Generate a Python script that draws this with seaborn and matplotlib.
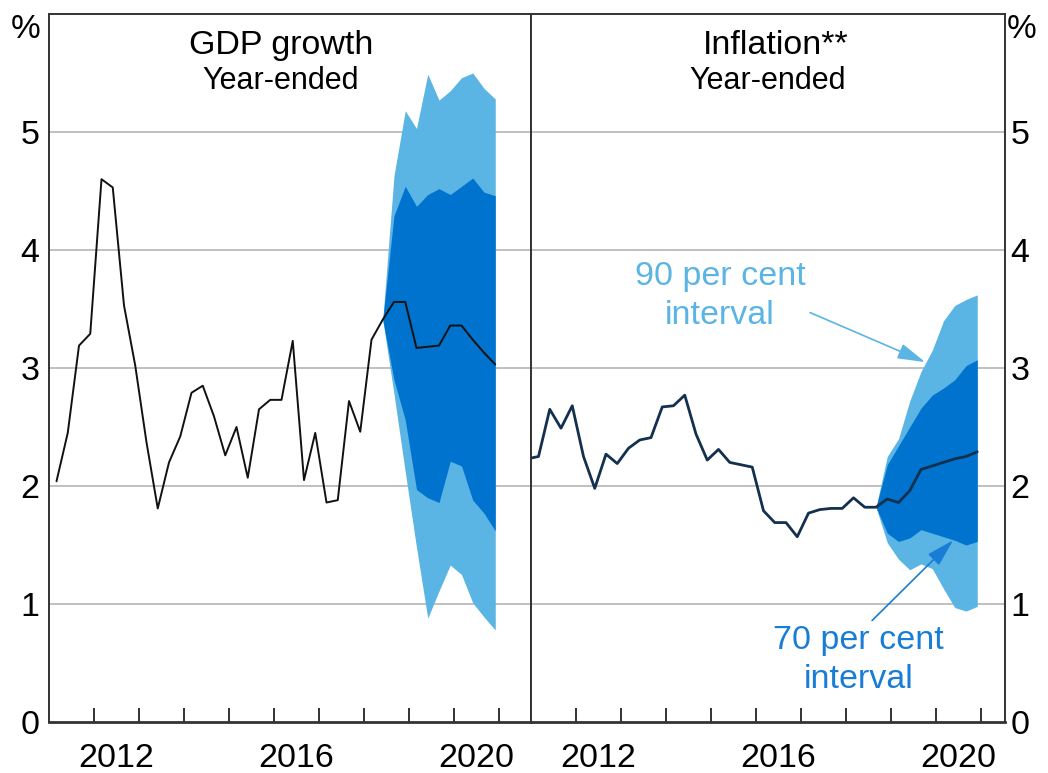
import numpy as np
import pandas as pd
import matplotlib
matplotlib.use("Agg")
import matplotlib.pyplot as plt
import seaborn as sns

# ---------------- data ----------------
gdp_quarters = pd.period_range("2011Q1", "2020Q4", freq="Q")
gdp_growth = [2.04, 2.45, 3.19, 3.29, 4.60, 4.53, 3.53, 3.02, 2.37, 1.81,
              2.20, 2.42, 2.79, 2.85, 2.59, 2.26, 2.50, 2.07, 2.65, 2.73,
              2.73, 3.23, 2.05, 2.45, 1.86, 1.88, 2.72, 2.46, 3.24, 3.41,
              3.56, 3.56, 3.17, 3.18, 3.19, 3.36, 3.36, 3.24, 3.13, 3.03]

gdp_fan_quarters = pd.period_range("2018Q2", "2020Q4", freq="Q")
gdp_90_high = [3.41, 4.63, 5.18, 5.03, 5.49, 5.27, 5.35, 5.46, 5.50, 5.37, 5.28]
gdp_70_high = [3.41, 4.29, 4.54, 4.37, 4.47, 4.52, 4.47, 4.54, 4.61, 4.49, 4.46]
gdp_70_low = [3.41, 2.90, 2.56, 1.97, 1.90, 1.86, 2.21, 2.17, 1.88, 1.77, 1.62]
gdp_90_low = [3.41, 2.78, 2.12, 1.48, 0.88, 1.11, 1.33, 1.25, 1.01, 0.89, 0.78]

cpi_quarters = pd.period_range("2010Q4", "2020Q4", freq="Q")
inflation = [2.23, 2.25, 2.65, 2.49, 2.68, 2.25, 1.98, 2.27, 2.19, 2.32,
             2.39, 2.41, 2.67, 2.68, 2.77, 2.44, 2.22, 2.31, 2.20, 2.18,
             2.16, 1.79, 1.69, 1.69, 1.57, 1.77, 1.80, 1.81, 1.81, 1.90,
             1.82, 1.82, 1.89, 1.86, 1.96, 2.14, 2.17, 2.20, 2.23, 2.25,
             2.29]

cpi_fan_quarters = pd.period_range("2018Q3", "2020Q4", freq="Q")
cpi_90_high = [1.82, 2.25, 2.40, 2.72, 2.97, 3.15, 3.40, 3.53, 3.58, 3.62]
cpi_70_high = [1.82, 2.18, 2.34, 2.50, 2.66, 2.77, 2.83, 2.90, 3.02, 3.07]
cpi_70_low = [1.82, 1.60, 1.53, 1.56, 1.63, 1.60, 1.57, 1.54, 1.50, 1.53]
cpi_90_low = [1.82, 1.52, 1.38, 1.29, 1.34, 1.30, 1.13, 0.97, 0.94, 0.98]

year_ticks = list(range(2012, 2022))
year_labels = ["2012", "2016", "2020"]
y_ticks = [0, 1, 2, 3, 4, 5]

# ---------------- style ----------------
sns.set_theme(style="white")
plt.rcParams["font.family"] = ["Liberation Sans", "DejaVu Sans"]
plt.rcParams["text.color"] = "black"
plt.rcParams["xtick.color"] = "black"
plt.rcParams["ytick.color"] = "black"

LIGHT = "#5AB4E4"
DARK = "#0073CF"
TXT70 = "#1A7DD5"
GRID = "#BBBBBB"
SPINE = "#333333"


def to_x(periods):
    return np.array([p.year + (3 * p.quarter - 1) / 12 for p in periods])


W, H = 1048, 773
fig = plt.figure(figsize=(W / 100, H / 100), dpi=100)


def px_axes(x0, x1, ytop, ybot):
    return fig.add_axes([x0 / W, 1 - ybot / H, (x1 - x0) / W, (ybot - ytop) / H])


PX_PER_YEAR = 45.0
X0 = 2011.0
ax1 = px_axes(49, 531, 14, 722)
ax2 = px_axes(531, 1005, 14, 722)
ax1.set_xlim(X0, X0 + 482 / PX_PER_YEAR)
ax2.set_xlim(X0, X0 + 474 / PX_PER_YEAR)

gdp_df = pd.DataFrame({"x": to_x(gdp_quarters), "value": gdp_growth})
cpi_df = pd.DataFrame({"x": to_x(cpi_quarters), "value": inflation})

# fans
gx = to_x(gdp_fan_quarters)
ax1.fill_between(gx, gdp_90_low, gdp_90_high, color=LIGHT, lw=0, zorder=2)
ax1.fill_between(gx, gdp_70_low, gdp_70_high, color=DARK, lw=0, zorder=3)
cx = to_x(cpi_fan_quarters)
ax2.fill_between(cx, cpi_90_low, cpi_90_high, color=LIGHT, lw=0, zorder=2)
ax2.fill_between(cx, cpi_70_low, cpi_70_high, color=DARK, lw=0, zorder=3)

sns.lineplot(data=gdp_df, x="x", y="value", ax=ax1, color="#111111", lw=1.4,
             zorder=5, legend=False)
sns.lineplot(data=cpi_df, x="x", y="value", ax=ax2, color="#14304F", lw=2.0,
             zorder=5, legend=False)

for ax in (ax1, ax2):
    ax.set_ylim(0, 6)
    ax.set_xlabel("")
    ax.set_ylabel("")
    for y in y_ticks[1:]:
        ax.axhline(y, color=GRID, lw=1.3, zorder=1)
    ax.set_yticks(y_ticks)
    ax.set_yticklabels([str(v) for v in y_ticks])
    ax.set_xticks(year_ticks)
    ax.set_xticklabels([])
    ax.set_xticks([int(l) + 0.5 for l in year_labels], minor=True)
    ax.set_xticklabels(year_labels, minor=True)
    ax.tick_params(axis="x", which="major", direction="in", length=10,
                   width=1.4, color=SPINE, bottom=True)
    ax.tick_params(axis="x", which="minor", length=0, pad=15,
                   labelsize=24.5, labelcolor="black")
    ax.tick_params(axis="y", length=0, labelsize=24.5, labelcolor="black")
    for s in ax.spines.values():
        s.set_visible(True)
        s.set_color(SPINE)
        s.set_linewidth(1.4)
    ax.spines["bottom"].set_linewidth(2.0)
    ax.set_facecolor("white")

ax1.tick_params(axis="y", pad=7)
ax2.yaxis.tick_right()
ax2.tick_params(axis="y", pad=4, length=0)

# panel titles
ax1.text(0.481, 0.956, "GDP growth", transform=ax1.transAxes, ha="center",
         va="center", fontsize=24.5, color="black")
ax1.text(0.481, 0.906, "Year-ended", transform=ax1.transAxes, ha="center",
         va="center", fontsize=22, color="black")
ax2.text(0.517, 0.956, "Inflation**", transform=ax2.transAxes, ha="center",
         va="center", fontsize=24.5, color="black")
ax2.text(0.5, 0.906, "Year-ended", transform=ax2.transAxes, ha="center",
         va="center", fontsize=22, color="black")

# % unit labels
fig.text(40 / W, 1 - 29 / H, "%", ha="right", va="center", fontsize=24,
         color="black")
fig.text(1007 / W, 1 - 29 / H, "%", ha="left", va="center", fontsize=24,
         color="black")

# annotations
arrow_style = "-|>,head_length=1.0,head_width=0.28"
ax2.text(2015.2, 3.61, "90 per cent\ninterval", color=LIGHT, ha="center",
         va="center", fontsize=24.5, linespacing=1.3, zorder=6)
ax2.annotate("", xy=(2019.76, 3.05), xytext=(2017.2, 3.47),
             arrowprops=dict(arrowstyle=arrow_style, color=LIGHT, lw=1.2,
                             mutation_scale=17, shrinkA=0, shrinkB=0),
             zorder=6)
ax2.text(2018.27, 0.525, "70 per cent\ninterval", color=TXT70, ha="center",
         va="center", fontsize=24.5, linespacing=1.3, zorder=6)
ax2.annotate("", xy=(2020.38, 1.54), xytext=(2018.58, 0.86),
             arrowprops=dict(arrowstyle=arrow_style, color=TXT70, lw=1.2,
                             mutation_scale=17, shrinkA=0, shrinkB=0),
             zorder=6)

fig.savefig("out.png", dpi=100, facecolor="white")
